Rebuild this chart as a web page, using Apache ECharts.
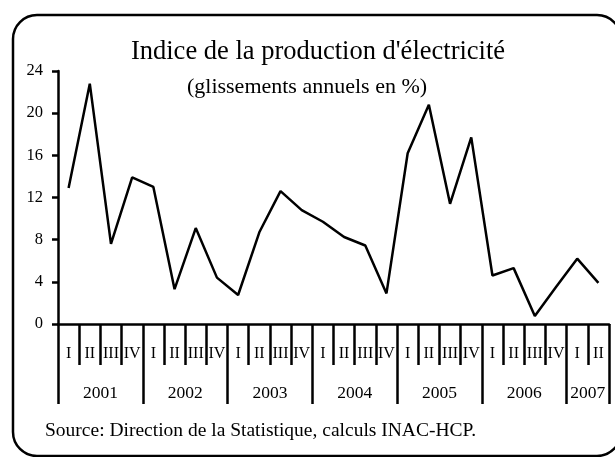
<!DOCTYPE html>
<html>
<head>
<meta charset="utf-8">
<script src="https://cdn.jsdelivr.net/npm/echarts@6/dist/echarts.min.js"></script>
<style>
  html, body { margin: 0; padding: 0; background: #fff; }
  #main { width: 615px; height: 457px; }
</style>
</head>
<body>
<div id="main"></div>
<script>
// data
var years = ['2001', '2002', '2003', '2004', '2005', '2006', '2007'];
var quartersPerYear = [4, 4, 4, 4, 4, 4, 2];
var quarterLabels = [
  'I', 'II', 'III', 'IV', 'I', 'II', 'III', 'IV', 'I', 'II', 'III', 'IV',
  'I', 'II', 'III', 'IV', 'I', 'II', 'III', 'IV', 'I', 'II', 'III', 'IV',
  'I', 'II'
];
var values = [
  12.9, 22.8, 7.6, 13.9, 13.0, 3.3, 9.1, 4.4, 2.75, 8.7, 12.6, 10.8,
  9.7, 8.25, 7.45, 2.9, 16.2, 20.8, 11.4, 17.7, 4.6, 5.3, 0.75, 3.5,
  6.2, 3.9
];
var yTicks = { min: 0, max: 24, interval: 4 };

// year axis: one slot per quarter boundary, label at the middle of each year
var yearSlots = [''];
var yearBounds = [0];
var pos = 0;
years.forEach(function (y, i) {
  var n = quartersPerYear[i];
  for (var k = 0; k < n; k++) yearSlots.push('');
  yearSlots[pos + n / 2] = y;
  pos += n;
  yearBounds.push(pos);
});
// 2007 has only two quarters, its label sits at the middle of those
yearSlots[pos - 1] = years[years.length - 1];

var font = 'Liberation Serif';
var myChart = echarts.init(document.getElementById('main'));
myChart.setOption({
  animation: false,
  title: [
    {
      text: "Indice de la production d'électricité",
      left: 313, top: 34, textAlign: 'center',
      textStyle: { fontFamily: font, fontSize: 26.5, fontWeight: 'normal', color: '#000' }
    },
    {
      text: '(glissements annuels en %)',
      left: 302, top: 71, textAlign: 'center',
      textStyle: { fontFamily: font, fontSize: 22, fontWeight: 'normal', color: '#000' }
    },
    {
      text: 'Source: Direction de la Statistique, calculs INAC-HCP.',
      left: 40, top: 416,
      textStyle: { fontFamily: font, fontSize: 19.5, fontWeight: 'normal', color: '#000' }
    }
  ],
  graphic: [{
    type: 'rect', z: -1,
    shape: { x: 13, y: 15, width: 608, height: 441, r: 24 },
    style: { fill: 'none', stroke: '#000', lineWidth: 2.5 }
  }],
  grid: { left: 58, right: 6, top: 71, bottom: 133, outerBoundsMode: 'none' },
  xAxis: [
    {
      type: 'category', position: 'bottom', data: quarterLabels, boundaryGap: true,
      axisLine: { onZero: false, lineStyle: { color: '#000', width: 2.5 } },
      axisTick: {
        show: true, interval: function () { return true; }, length: 41,
        lineStyle: { color: '#000', width: 2.5 }
      },
      axisLabel: { interval: 0, margin: 22, fontFamily: font, fontSize: 16, color: '#000' }
    },
    {
      type: 'category', position: 'bottom', data: yearSlots, boundaryGap: false,
      axisLine: { show: false, onZero: false },
      axisTick: {
        show: true, length: 80, lineStyle: { color: '#000', width: 2.5 },
        interval: function (i) { return yearBounds.indexOf(i) >= 0; }
      },
      axisLabel: {
        margin: 60, fontFamily: font, fontSize: 17.5, color: '#000',
        interval: function (i, v) { return v !== ''; }
      }
    }
  ],
  yAxis: {
    type: 'value', min: yTicks.min, max: yTicks.max, interval: yTicks.interval,
    splitLine: { show: false },
    axisLine: { show: true, lineStyle: { color: '#000', width: 2.5 } },
    axisTick: { show: true, length: 6, lineStyle: { color: '#000', width: 2.5 } },
    axisLabel: { margin: 15, fontFamily: font, fontSize: 16.5, color: '#000' }
  },
  series: [{
    type: 'line', xAxisIndex: 0, data: values, symbol: 'none',
    lineStyle: { color: '#000', width: 2.5 }
  }]
});
</script>
</body>
</html>
